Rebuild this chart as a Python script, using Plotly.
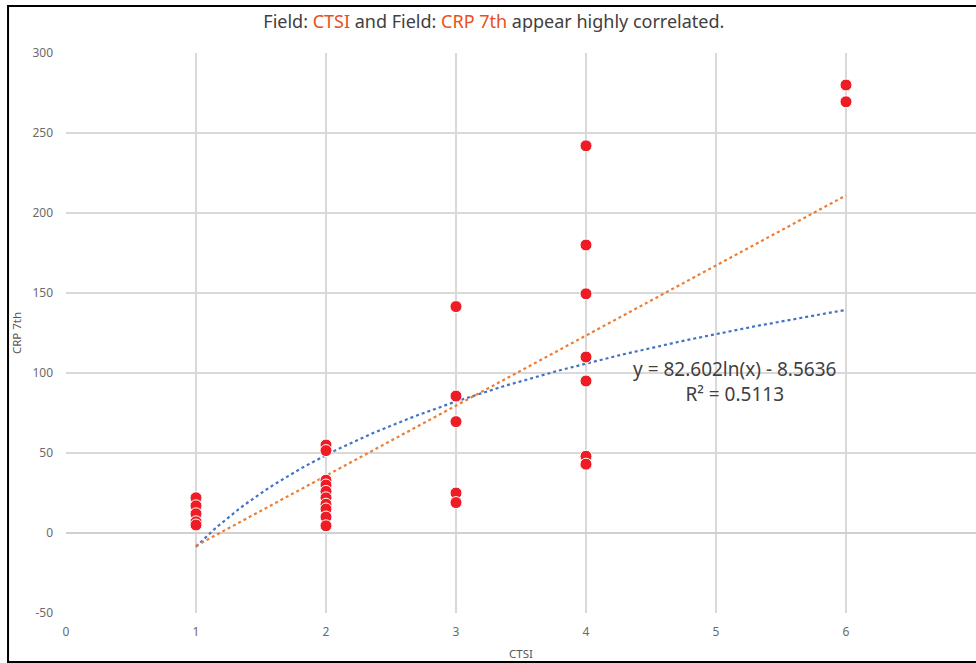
import numpy as np
import plotly.graph_objects as go

# Data
ctsi = [1, 1, 1, 1, 1,
        2, 2, 2, 2, 2, 2, 2, 2, 2, 2,
        3, 3, 3, 3, 3,
        4, 4, 4, 4, 4, 4, 4,
        6, 6]
crp7 = [22, 17, 12, 7, 5,
        55, 51.5, 33, 30, 26, 22, 18, 15, 10, 4.5,
        141.5, 85.6, 69.6, 25, 19,
        242, 180, 149.5, 110, 95, 48, 43,
        280, 269.5]

# Trendline coefficients
log_a, log_b = 82.602, -8.5636
r2_text = "0.5113"
lin_slope, lin_intercept = 43.8, -51.8

x_tick_vals = [0, 1, 2, 3, 4, 5, 6, 7]
y_tick_vals = [-50, 0, 50, 100, 150, 200, 250, 300]

xs = np.linspace(1, 6, 120)
log_y = log_a * np.log(xs) + log_b
lin_y = lin_slope * xs + lin_intercept

FONT = "Noto Sans"
fig = go.Figure()

fig.add_trace(go.Scatter(x=xs, y=log_y, mode="lines",
                         line=dict(color="#4472C4", width=2.2, dash="dot"),
                         hoverinfo="skip", showlegend=False))
fig.add_trace(go.Scatter(x=xs, y=lin_y, mode="lines",
                         line=dict(color="#ED7D31", width=2.2, dash="dot"),
                         hoverinfo="skip", showlegend=False))
fig.add_trace(go.Scatter(x=ctsi, y=crp7, mode="markers",
                         marker=dict(color="#EE1C25", size=12,
                                     line=dict(color="white", width=1)),
                         showlegend=False))

fig.add_annotation(x=5.14, y=94.5, xref="x", yref="y",
                   text=f"y = {log_a}ln(x) - {abs(log_b)}<br>R² = {r2_text}",
                   showarrow=False, align="center",
                   font=dict(family=FONT, size=19, color="#404040"))

fig.add_shape(type="rect", xref="paper", yref="paper",
              x0=-0.0637, x1=1.02, y0=-0.0875, y1=1.084,
              line=dict(color="black", width=2), fillcolor="rgba(0,0,0,0)",
              layer="above")

orange = "#E8501E"
fig.update_layout(
    width=976, height=663,
    margin=dict(l=66, r=0, t=53, b=50),
    paper_bgcolor="white", plot_bgcolor="white",
    title=dict(text=(f"Field: <span style='color:{orange}'>CTSI</span> and Field: "
                     f"<span style='color:{orange}'>CRP 7th</span> appear highly correlated."),
               x=0.506, xref="container", xanchor="center", y=0.968, yanchor="middle",
               font=dict(family=FONT, size=18, color="#404040")),
    font=dict(family=FONT, color="#595959", size=12),
    xaxis=dict(range=[0, 7], tickvals=x_tick_vals,
               ticktext=[str(v) for v in x_tick_vals], showgrid=True,
               gridcolor="#D9D9D9", gridwidth=1.5, zeroline=False,
               showline=False, ticks="", ticklabelstandoff=10,
               title=dict(text="CTSI", standoff=10, font=dict(size=11.5, color="#595959")),
               tickfont=dict(size=12, color="#6a6a6a")),
    yaxis=dict(range=[-50, 300], tickvals=y_tick_vals,
               ticktext=[str(v) for v in y_tick_vals], showgrid=True,
               gridcolor="#D9D9D9", gridwidth=1.5, zeroline=True,
               zerolinecolor="#D0D0D0", zerolinewidth=2,
               showline=False, ticks="", ticklabelstandoff=12,
               title=dict(text="CRP 7th", standoff=8, font=dict(size=11.5, color="#595959")),
               tickfont=dict(size=12, color="#6a6a6a")),
)

fig.write_html("out.html")
